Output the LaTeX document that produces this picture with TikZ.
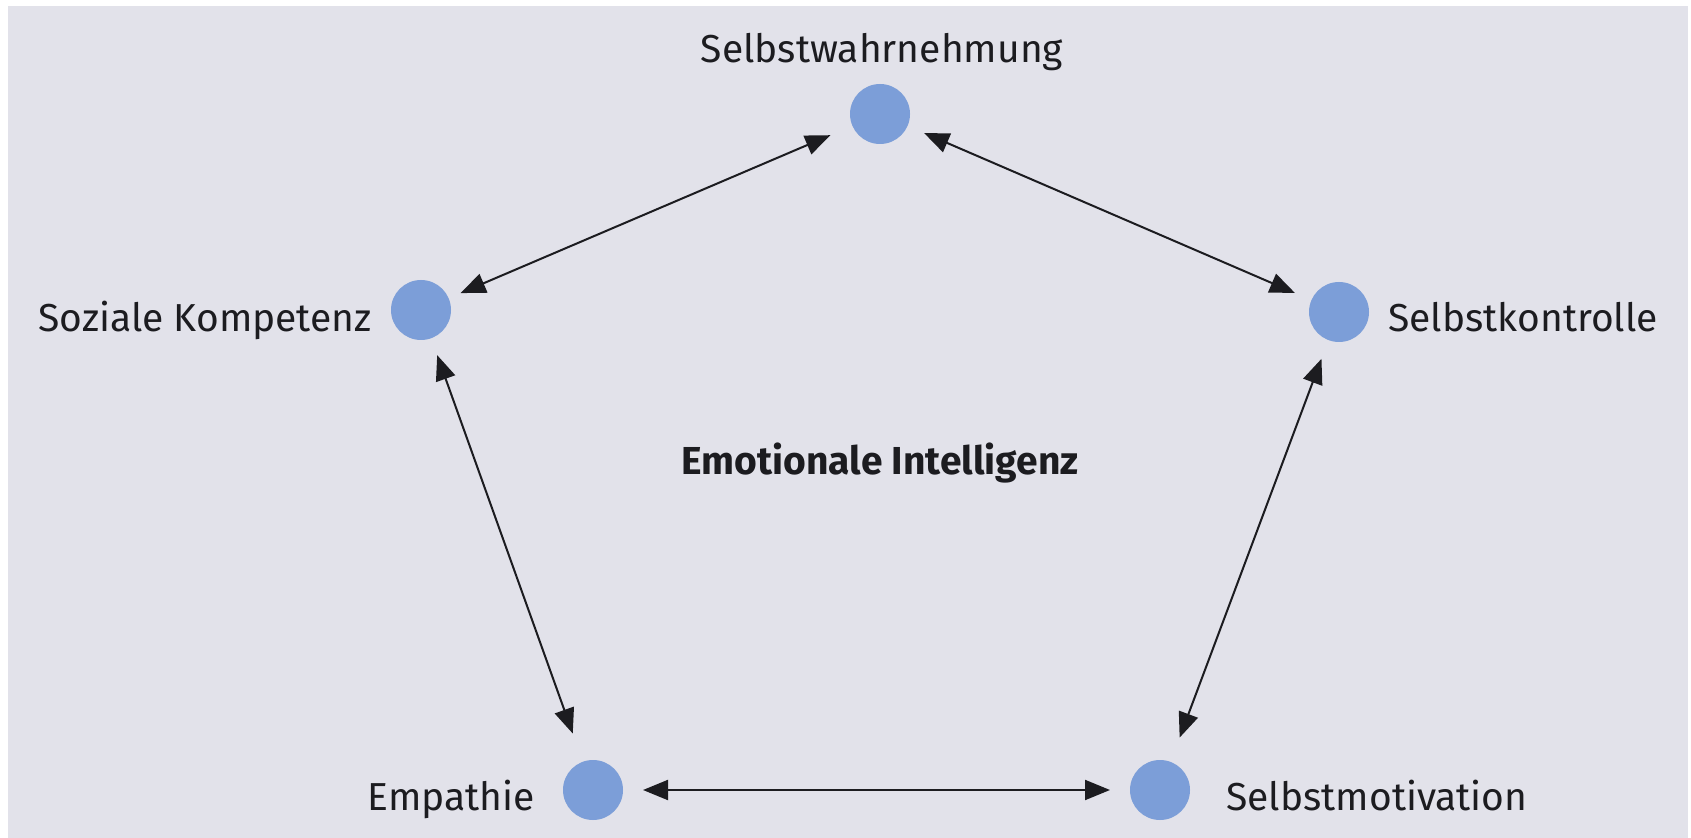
\documentclass[tikz,border=0pt]{standalone}
\usepackage{fontspec}
\setmainfont{Fira Sans}
\usetikzlibrary{arrows.meta}

\definecolor{paper}{RGB}{226,226,234}
\definecolor{dotblue}{RGB}{124,158,216}
\definecolor{ink}{RGB}{28,28,32}

\tikzset{
  dot/.style={circle, fill=dotblue, draw=none, minimum size=30pt, inner sep=0pt, outer sep=0pt},
  lbl/.style={font=\fontsize{19.5}{22}\selectfont, text=ink, inner sep=0pt},
  tip/.style={Triangle[length=12.5pt,width=10pt]},
  link/.style={{Triangle[length=12.5pt,width=10pt]}-{Triangle[length=12.5pt,width=10pt]}, line width=1pt, ink}
}

\begin{document}
\begin{tikzpicture}[x=0.5pt, y=-0.5pt]
  % page
  \fill[white] (0,0) rectangle (1691,838);
  \fill[paper] (8,6) rectangle (1688,838);
  \useasboundingbox (0,0) rectangle (1691,838);

  % the five competences
  \node[dot] (wahr) at (880,114) {};
  \node[dot] (soz)  at (421,310) {};
  \node[dot] (kon)  at (1339,312) {};
  \node[dot] (emp)  at (593,790) {};
  \node[dot] (mot)  at (1160,790) {};

  % labels
  \node[lbl, anchor=base] (twahr) at (882,63) {Selbstwahrnehmung};
  \node[lbl, anchor=base east] (tsoz) at (372,332) {Soziale Kompetenz};
  \node[lbl, anchor=base west] (tkon) at (1388,332) {Selbstkontrolle};
  \node[lbl, anchor=base east] (temp) at (535,810) {Empathie};
  \node[lbl, anchor=base west] (tmot) at (1226,810) {Selbstmotivation};
  \node[lbl, anchor=base, font=\fontsize{19.5}{22}\selectfont\bfseries] (center) at (880,475) {Emotionale Intelligenz};

  % mutual relations
  \draw[link, shorten <=6.5pt, shorten >=12pt] (soz) -- (wahr);
  \draw[link, shorten <=9pt, shorten >=9pt] (wahr) -- (kon);
  \draw[link, shorten <=9pt, shorten >=15pt] (soz) -- (emp);
  \draw[link, shorten <=10pt, shorten >=13pt] (kon) -- (mot);
  \draw[link, shorten <=10pt, shorten >=10pt] (emp) -- (mot);
\end{tikzpicture}
\end{document}
